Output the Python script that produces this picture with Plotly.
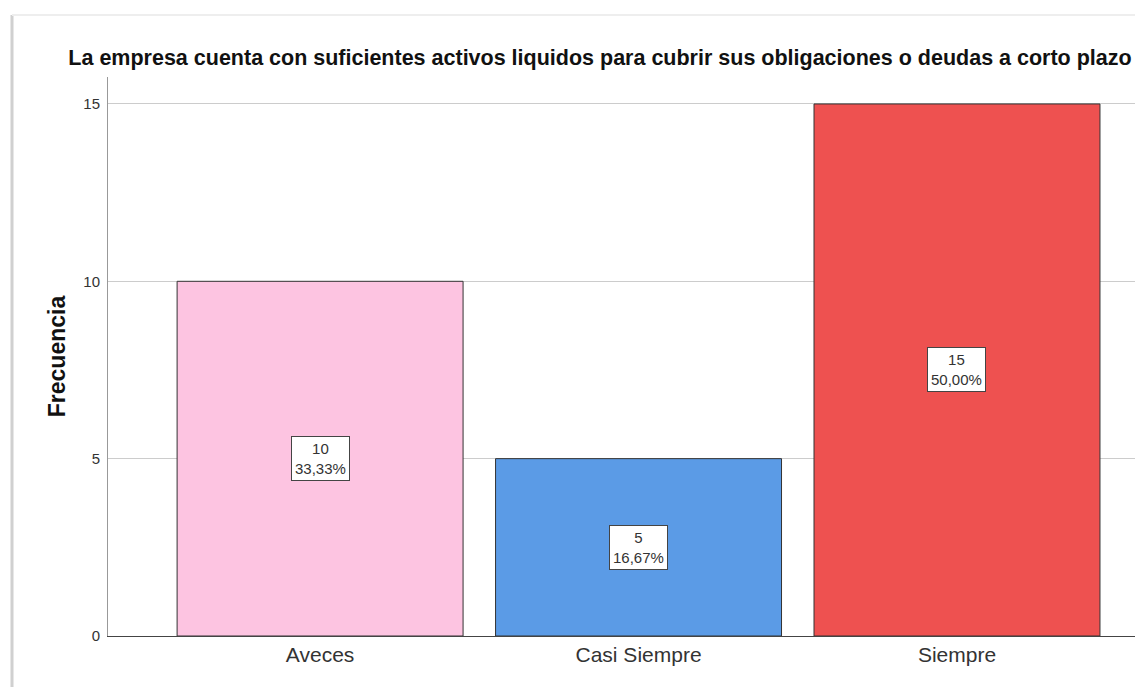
import plotly.graph_objects as go

categories = ["Aveces", "Casi Siempre", "Siempre"]
counts = [10, 5, 15]
percents = ["33,33%", "16,67%", "50,00%"]
colors = ["#FDC4E1", "#5B9BE6", "#EE5150"]
y_ticks = [0, 5, 10, 15]

# page body adds an 8px offset; figure coordinates = image coordinates - 8
W, H = 1135, 679
L, R, T, B = 100, 8, 69, 51
pw, ph = W - L - R, H - T - B

fig = go.Figure()
fig.add_trace(go.Bar(
    x=categories, y=counts, width=0.898,
    marker=dict(color=colors, line=dict(color="#333333", width=1)),
    hoverinfo="skip",
))

for c, v, p in zip(categories, counts, percents):
    fig.add_annotation(
        x=c, y=v / 2, text=f"{v}<br>{p}", showarrow=False,
        font=dict(family="Liberation Sans, Arial", size=15, color="#333333"),
        bgcolor="white", bordercolor="#444444", borderwidth=1, borderpad=3,
    )

fig.update_layout(
    width=W, height=H,
    margin=dict(l=L, r=R, t=T, b=B, autoexpand=False),
    paper_bgcolor="white", plot_bgcolor="white",
    showlegend=False,
    title=dict(
        text="La empresa cuenta con suficientes activos liquidos para cubrir sus obligaciones o deudas a corto plazo",
        font=dict(family="Liberation Sans, Arial", size=21.5, color="#111111", weight="bold"),
        x=592 / W, xanchor="center", y=1 - 49 / H, yanchor="middle",
    ),
    xaxis=dict(
        range=[-0.666, 2.559],
        showline=True, linecolor="#444444", linewidth=1,
        tickfont=dict(family="Liberation Sans, Arial", size=21, color="#333333"),
        ticks="", showgrid=False,
    ),
    yaxis=dict(
        range=[0, 15.76],
        tickvals=y_ticks,
        showline=True, linecolor="#999999", linewidth=1,
        showgrid=True, gridcolor="#CCCCCC", gridwidth=1,
        zeroline=False,
        tickfont=dict(family="Liberation Sans, Arial", size=15, color="#333333"),
        ticks="", ticklabelstandoff=4,
        title=dict(text="Frecuencia", standoff=11,
                   font=dict(family="Liberation Sans, Arial", size=23, color="#111111", weight="bold")),
    ),
    bargap=0.1,
)

# frame of the original image (left shadow edge and top edge)
fig.add_shape(type="line", xref="paper", yref="paper",
              x0=-(L - 4) / pw, x1=-(L - 4) / pw, y0=-B / ph, y1=(ph + T - 7) / ph,
              line=dict(color="#D0D0D0", width=3))
fig.add_shape(type="line", xref="paper", yref="paper",
              x0=-(L - 4) / pw, x1=1.01, y0=(ph + T - 7) / ph, y1=(ph + T - 7) / ph,
              line=dict(color="#EEEEEE", width=2))

fig.write_html("out.html")
